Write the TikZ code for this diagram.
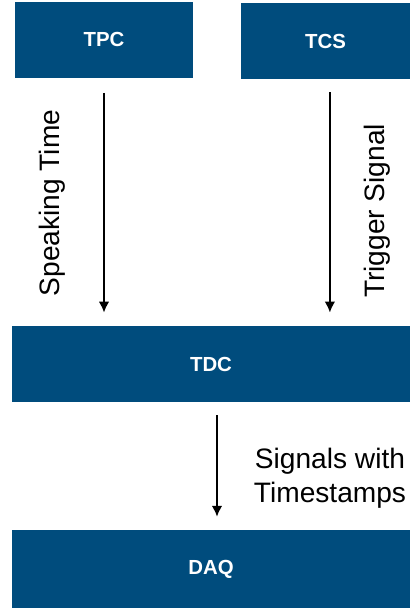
\documentclass[tikz,border=0pt]{standalone}
\usepackage{fontspec}
\setmainfont{Liberation Sans}
\usetikzlibrary{arrows.meta, positioning}
\definecolor{blockblue}{HTML}{004C7D}

\begin{document}
\begin{tikzpicture}[
  block/.style={fill=blockblue, text=white, minimum height=1.9cm, inner sep=0pt,
    font=\fontsize{14.5}{16}\selectfont\bfseries},
  flow/.style={-{Latex[length=2.7mm, width=2.6mm]}, line width=1.1pt, black},
  note/.style={font=\fontsize{20}{24}\selectfont, align=center}
]
  \useasboundingbox (0,0) rectangle (10.25,15.2);
  % sources
  \node[block, minimum width=4.45cm] (tpc) at (2.6,14.21) {TPC};
  \node[block, minimum width=4.225cm] (tcs) at (8.1375,14.175) {TCS};
  % converter and readout
  \node[block, minimum width=9.95cm] (tdc) at (5.275,6.1) {TDC};
  \node[block, minimum width=9.95cm, minimum height=1.95cm] (daq) at (5.275,0.975) {DAQ};
  % connectors
  \draw[flow, shorten <=0.375cm, shorten >=0.33cm] (tpc.south) -- (tpc.south |- tdc.north);
  \draw[flow, shorten <=0.33cm, shorten >=0.33cm] ([xshift=0.11cm]tcs.south) -- ([xshift=0.11cm]tcs.south |- tdc.north);
  \draw[flow, shorten <=0.325cm, shorten >=0.325cm] ([xshift=0.15cm]tdc.south) -- ([xshift=0.15cm]tdc.south |- daq.north);
  % labels
  \node[note, rotate=90] (speak) at (1.3,10.125) {Speaking Time};
  \node[note, rotate=90] (trig) at (9.425,9.925) {Trigger Signal};
  \node[note] (stamps) at (8.25,3.25) {Signals with\\Timestamps};
\end{tikzpicture}
\end{document}
